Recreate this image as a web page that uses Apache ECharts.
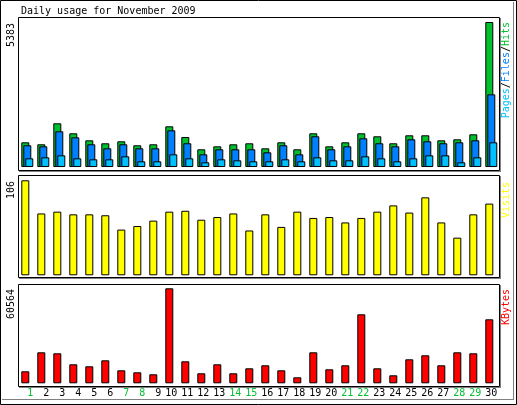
<!DOCTYPE html>
<html><head><meta charset="utf-8">
<script src="https://cdn.jsdelivr.net/npm/echarts@6/dist/echarts.min.js"></script>
<style>html,body{margin:0;padding:0;background:#fff}#c{width:517px;height:405px}</style>
</head><body><div id="c"></div>
<script>
const title = 'Daily usage for November 2009';
const days = ['1','2','3','4','5','6','7','8','9','10','11','12','13','14','15','16','17','18','19','20','21','22','23','24','25','26','27','28','29','30'];
const weekendDays = ['1','7','8','14','15','21','22','28','29'];
const hits = [917,843,1622,1251,991,880,954,806,843,1511,1114,657,768,843,880,694,917,657,1251,768,917,1251,1140,880,1177,1177,991,1028,1214,5383];
const files = [806,768,1325,1102,843,694,843,694,694,1362,880,471,657,657,657,545,806,471,1140,657,768,1065,880,768,1028,954,880,917,991,2698];
const pages = [322,359,433,322,285,285,396,211,211,471,322,174,285,248,211,211,285,211,359,248,248,396,322,211,322,433,433,174,359,917];
const visits = [106,69,71,68,68,67,51,55,61,71,72,62,65,69,50,68,54,71,64,65,59,64,71,78,70,87,59,42,68,80];
const kbytes = [7650,19763,19126,12113,10838,14663,8288,7013,5738,60564,14025,6375,12113,6375,9563,11475,8288,3825,19763,8925,11475,43988,9563,5100,15300,17850,11475,19763,19126,40800];
const maxHits = 5383, maxVisits = 106, maxKbytes = 60564;

const FONT = '10px "DejaVu Sans Mono", monospace';
const C = {hits:'#00c030', files:'#0080ff', pages:'#00c0ff', visits:'#ffff00', kbytes:'#ff0000', weekend:'#00c030'};

const chart = echarts.init(document.getElementById('c'), null, {renderer:'canvas'});

function xAx(gi, showLabels){
  return {type:'category', gridIndex:gi, data:days, boundaryGap:true,
    axisLine:{show:false}, axisTick:{show:false}, splitLine:{show:false},
    axisLabel:{show:showLabels, interval:0, margin:5, fontFamily:'DejaVu Sans Mono', fontSize:10,
      padding:[0,0,0,4],
      formatter:v=> (v.length<2?' '+v:v),
      color:(v)=> weekendDays.indexOf(v)>=0 ? C.weekend : '#000'}};
}
function yAx(gi,max){
  return {type:'value', gridIndex:gi, min:0, max:max, show:false, splitLine:{show:false}};
}
const bs = (color)=>({color:color, borderColor:'#000', borderWidth:1});

function frame(x1,y1,x2,y2){
  return [
    {type:'rect', shape:{x:x1+0.5,y:y1+0.5,width:x2-x1,height:y2-y1}, style:{fill:null, stroke:'#000', lineWidth:1}, silent:true, z:10},
    {type:'line', shape:{x1:x2+1.5,y1:y1+1,x2:x2+1.5,y2:y2+2}, style:{stroke:'#808080', lineWidth:1}, silent:true, z:10},
    {type:'line', shape:{x1:x1+1,y1:y2+1.5,x2:x2+2,y2:y2+1.5}, style:{stroke:'#808080', lineWidth:1}, silent:true, z:10}
  ];
}
function vtext(x,yTop,text,fill,rich){
  const st = {text:text, font:FONT, fill:fill, align:'right', verticalAlign:'middle'};
  if(rich) st.rich = rich;
  return {type:'text', x:x, y:yTop, rotation:Math.PI/2, style:st, silent:true, z:11};
}

const graphics = [
  {type:'rect', shape:{x:0.5,y:0.5,width:516,height:404}, style:{fill:null, stroke:'#000', lineWidth:1}, silent:true},
  {type:'line', shape:{x1:513.5,y1:2,x2:513.5,y2:400}, style:{stroke:'#808080', lineWidth:1}, silent:true},
  {type:'line', shape:{x1:2,y1:399.5,x2:514,y2:399.5}, style:{stroke:'#808080', lineWidth:1}, silent:true},
  {type:'text', x:21, y:11.5, style:{text:title, font:FONT, fill:'#000', align:'left', verticalAlign:'middle'}, silent:true},
  ...frame(18,17,499,170),
  ...frame(18,175,499,277),
  ...frame(18,284,499,386),
  vtext(11.5,23,String(maxHits),'#000'),
  vtext(11.5,181,String(maxVisits),'#000'),
  vtext(11.5,289,String(maxKbytes),'#000'),
  vtext(506.5,22,'{p|Pages}{s|/}{f|Files}{s|/}{h|Hits}','#000',{
    p:{fill:C.pages, font:FONT}, s:{fill:'#000', font:FONT}, f:{fill:C.files, font:FONT}, h:{fill:C.hits, font:FONT}}),
  vtext(506.5,182,'Visits',C.visits),
  vtext(506.5,289,'KBytes',C.kbytes)
];

chart.setOption({
  animation:false,
  backgroundColor:'#fff',
  grid:[
    {left:19.3, top:22, width:480, height:145},
    {left:17.3, top:180.3, width:480, height:95},
    {left:17.3, top:288.3, width:480, height:95}
  ],
  xAxis:[xAx(0,false), xAx(1,false), xAx(2,true)],
  yAxis:[yAx(0,maxHits), yAx(1,maxVisits), yAx(2,maxKbytes)],
  series:[
    {name:'Hits', type:'bar', xAxisIndex:0, yAxisIndex:0, data:hits, barWidth:8, barGap:'-75%', itemStyle:bs(C.hits)},
    {name:'Files', type:'bar', xAxisIndex:0, yAxisIndex:0, data:files, barWidth:8, barGap:'-75%', itemStyle:bs(C.files)},
    {name:'Pages', type:'bar', xAxisIndex:0, yAxisIndex:0, data:pages, barWidth:8, barGap:'-75%', itemStyle:bs(C.pages)},
    {name:'Visits', type:'bar', xAxisIndex:1, yAxisIndex:1, data:visits, barWidth:8, itemStyle:bs(C.visits)},
    {name:'KBytes', type:'bar', xAxisIndex:2, yAxisIndex:2, data:kbytes, barWidth:8, itemStyle:bs(C.kbytes)}
  ],
  graphic:graphics
});
</script></body></html>
